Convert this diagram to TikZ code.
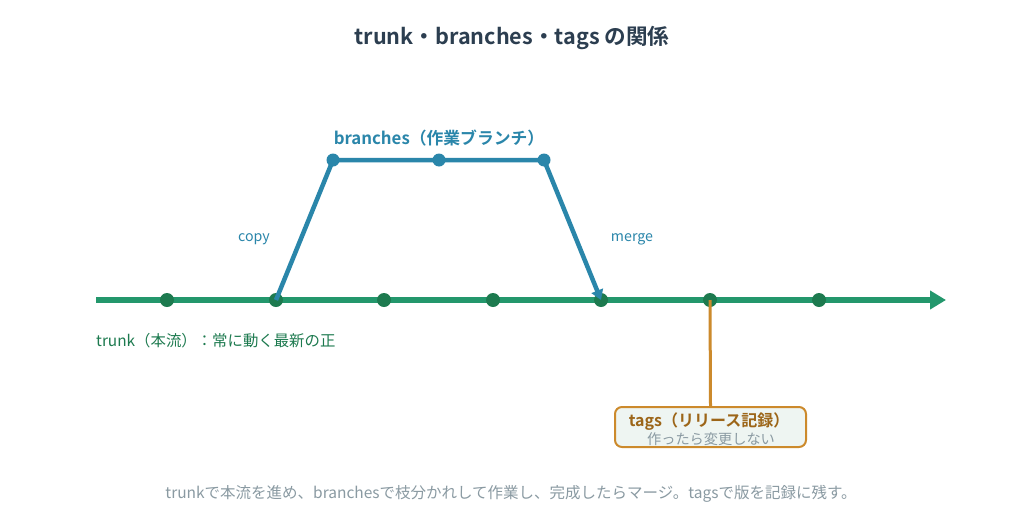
\documentclass[tikz,border=0pt]{standalone}
\usepackage{fontspec}
\setmainfont{Noto Sans CJK JP}
\newfontfamily\cjkb{Noto Sans CJK JP Bold}
\usetikzlibrary{arrows.meta}
\definecolor{titlec}{HTML}{2C3E50}
\definecolor{trunkc}{HTML}{23976C}
\definecolor{dotg}{HTML}{1D7A4F}
\definecolor{branchc}{HTML}{2A86AA}
\definecolor{tagc}{HTML}{CC8A2C}
\definecolor{tagtext}{HTML}{9C6518}
\definecolor{tagfill}{HTML}{EEF5F2}
\definecolor{greyc}{HTML}{8A9AA2}
\tikzset{
  tdot/.style={circle,fill=dotg,inner sep=0pt,minimum size=14pt},
  bdot/.style={circle,fill=branchc,inner sep=0pt,minimum size=13pt},
  trunkline/.style={line width=6pt,draw=trunkc},
  branchline/.style={line width=4.5pt,draw=branchc,line join=round},
  lbl/.style={inner sep=0pt,font=\fontsize{14.2}{16}\selectfont,text=branchc},
}
\begin{document}
\begin{tikzpicture}[x=1pt,y=-1pt]
\useasboundingbox[fill=white] (0,0) rectangle (1024,525);
\node[font=\cjkb\fontsize{21.6}{26}\selectfont,text=titlec] (title) at (512,38) {trunk・branches・tags の関係};
% trunk
\coordinate (ts) at (96,300);
\coordinate (te) at (946,300);
\draw[trunkline,-{Triangle[length=16pt,width=18pt]}] (ts) -- (te);
\foreach \i/\x in {1/167,2/276,3/384,4/493,5/601,6/710,7/819}{
  \node[tdot] (t\i) at (\x,300) {};
}
% branch
\node[bdot] (b1) at (333,160) {};
\node[bdot] (b2) at (439,160) {};
\node[bdot] (b3) at (544,160) {};
\draw[branchline] (t2.center) -- (b1.center) -- (b3.center);
\draw[branchline,-{Triangle[length=10pt,width=12pt]}] (b3.center) -- (t5.center);
\node[font=\cjkb\fontsize{16.8}{20}\selectfont,text=branchc] (blbl) at (439,138) {branches（作業ブランチ）};
\node[lbl] (copy) at (254,239) {copy};
\node[lbl] (merge) at (632,239) {merge};
\node[anchor=west,inner sep=0pt,font=\fontsize{15.4}{17}\selectfont,text=dotg] (tlbl) at (96,341) {trunk（本流）：常に動く最新の正};
% tags
\node[draw=tagc,line width=2pt,fill=tagfill,rounded corners=7pt,minimum width=191pt,minimum height=40pt,inner sep=0pt] (tagbox) at (710.5,427) {};
\draw[tagc,line width=3pt] (t6.center) -- (tagbox.north);
\node[font=\cjkb\fontsize{16}{18}\selectfont,text=tagtext] (tagt) at (709,422) {tags（リリース記録）};
\node[font=\fontsize{14.2}{15}\selectfont,text=greyc] (tags) at (711,439) {作ったら変更しない};
\node[font=\fontsize{15.5}{17}\selectfont,text=greyc] (foot) at (511,494) {trunkで本流を進め、branchesで枝分かれして作業し、完成したらマージ。tagsで版を記録に残す。};
\end{tikzpicture}
\end{document}
